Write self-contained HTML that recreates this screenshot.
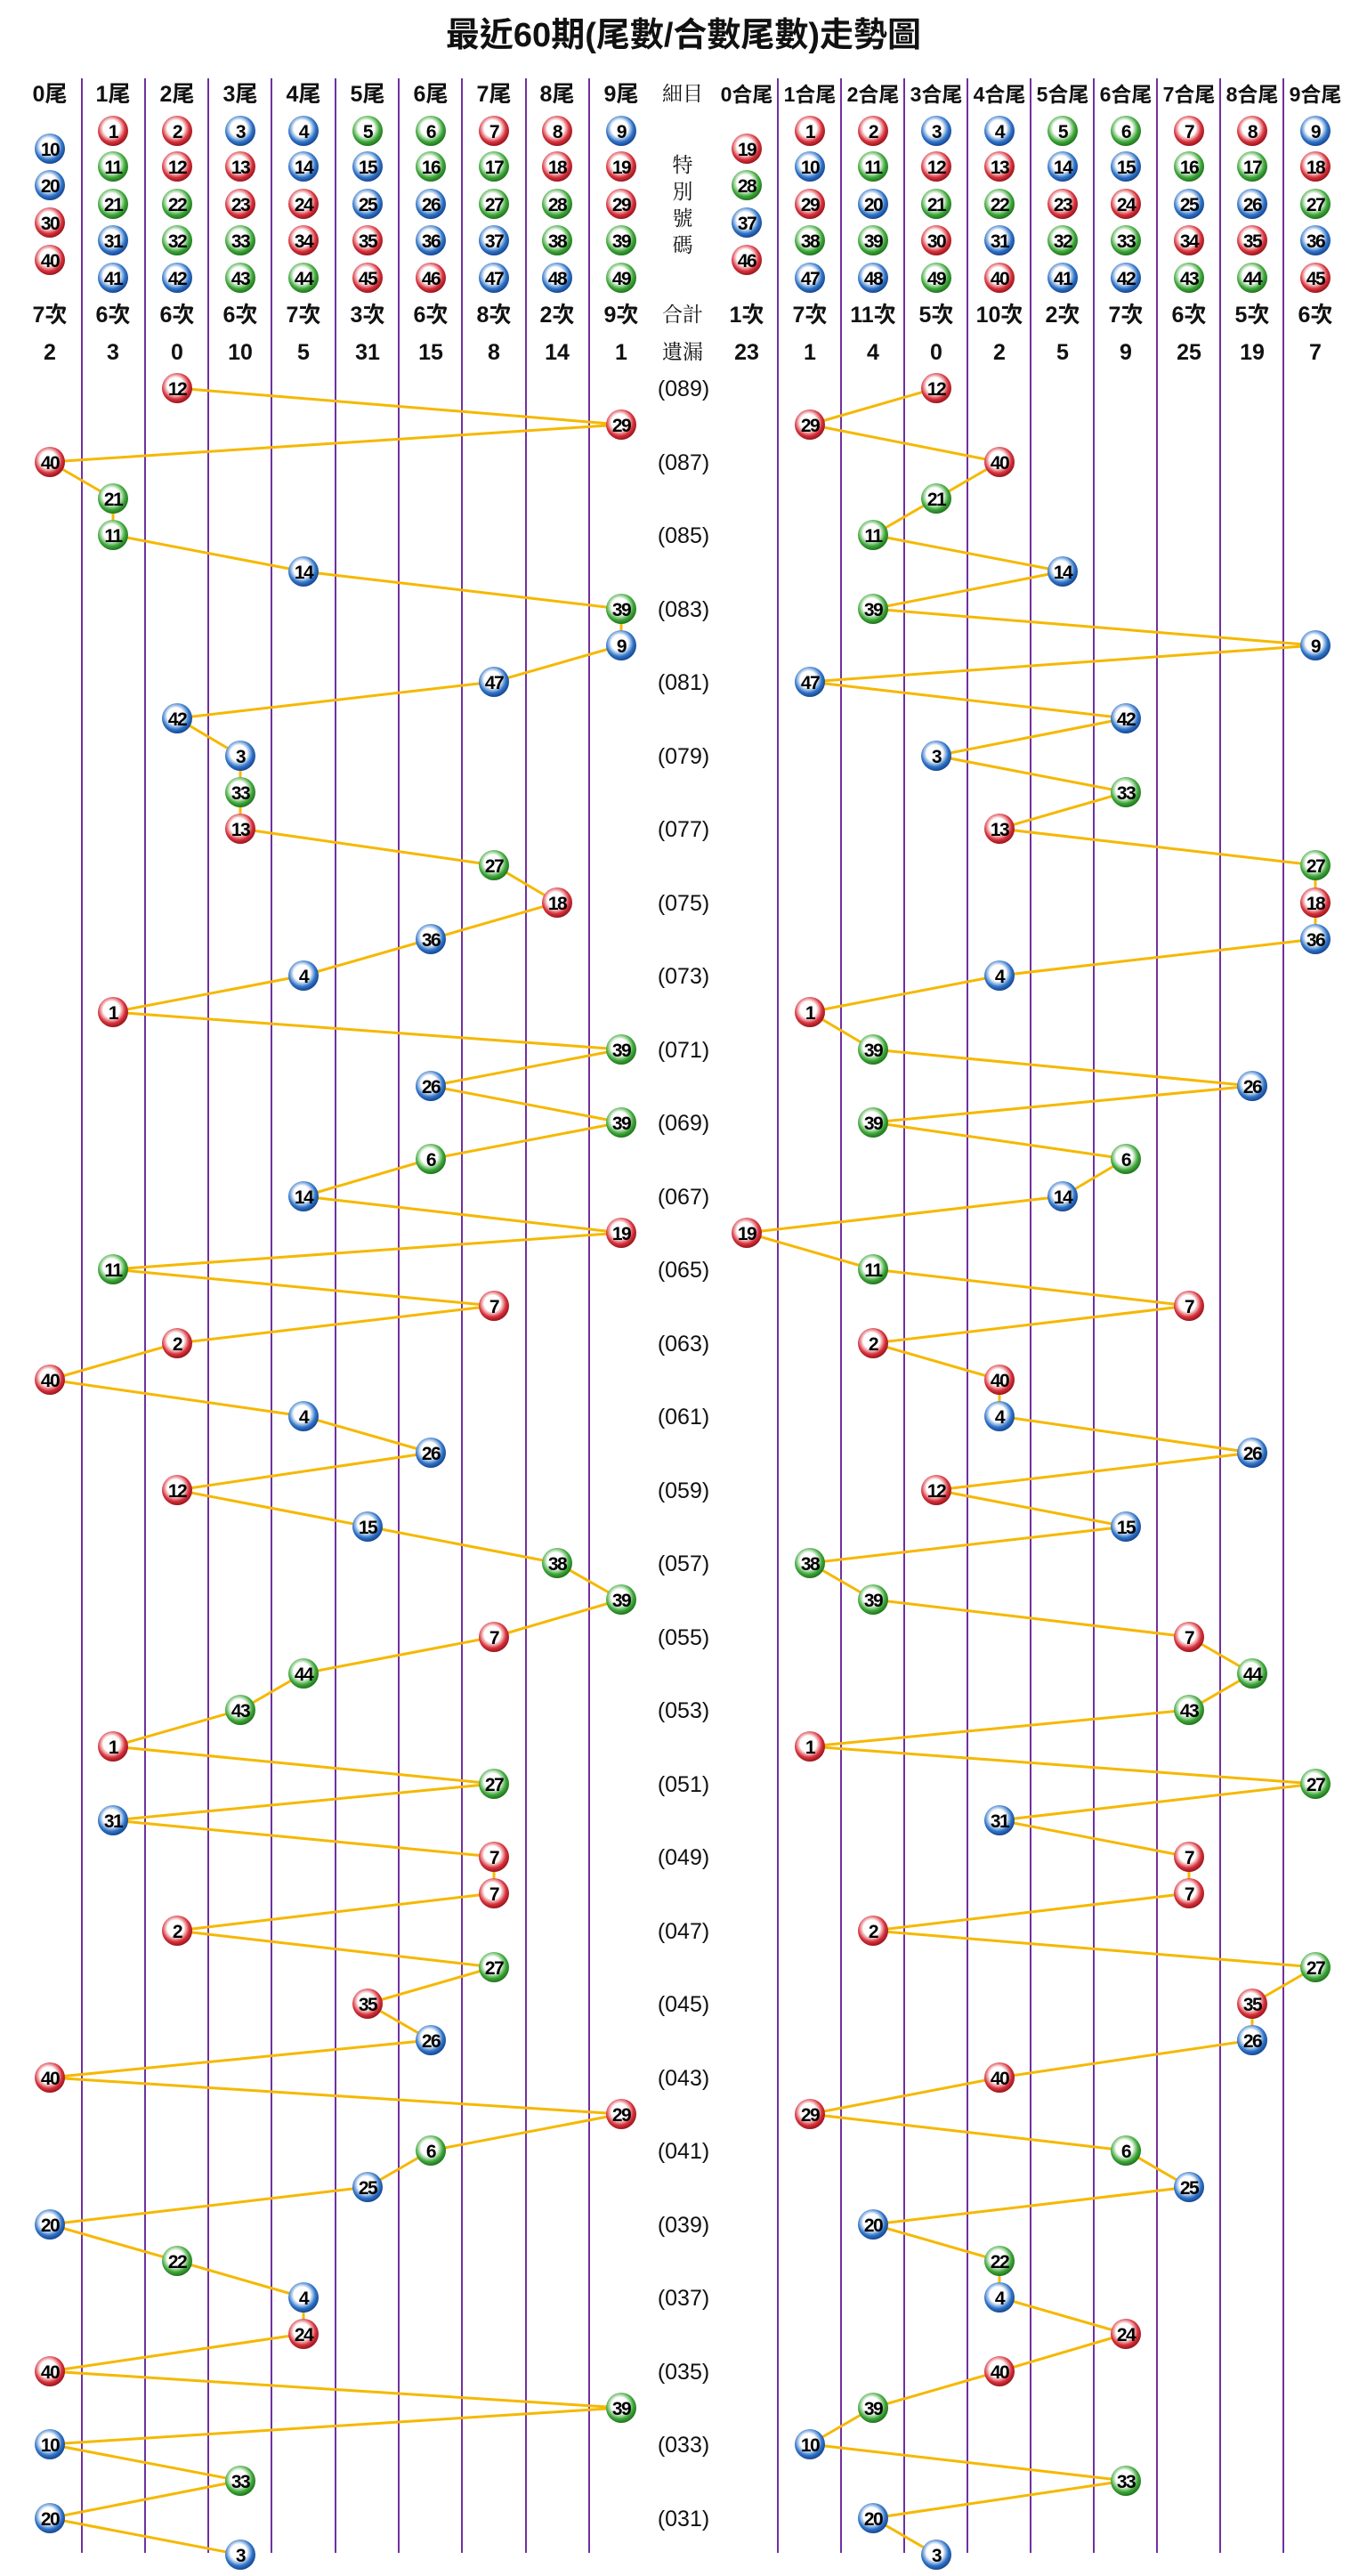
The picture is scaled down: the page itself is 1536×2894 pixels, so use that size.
<!DOCTYPE html>
<html><head><meta charset="utf-8"><style>
html,body{margin:0;padding:0;background:#fff;}
svg{display:block;}
.t{font-family:"Liberation Sans","Noto Sans CJK TC",sans-serif;font-weight:bold;fill:#111;text-anchor:middle;}
.h{font-size:25px;}
.m{font-family:"Liberation Sans","Noto Serif CJK SC","Noto Sans CJK TC",serif;font-weight:normal;font-size:23px;fill:#111;text-anchor:middle;}
.n text,text.n{font-family:"Liberation Sans",sans-serif;font-weight:bold;font-size:21px;letter-spacing:-1.5px;fill:#000;text-anchor:middle;transform-box:fill-box;}
</style></head><body>
<svg width="1536" height="2894" viewBox="0 0 1536 2894" xmlns="http://www.w3.org/2000/svg">
<defs>
<radialGradient id="gr" cx="0.45" cy="0.42" r="0.6"><stop offset="0" stop-color="#fff"/><stop offset="0.45" stop-color="#fff"/><stop offset="0.75" stop-color="#d8323c"/><stop offset="1" stop-color="#8e1018"/></radialGradient>
<radialGradient id="gb" cx="0.45" cy="0.42" r="0.6"><stop offset="0" stop-color="#fff"/><stop offset="0.45" stop-color="#fff"/><stop offset="0.75" stop-color="#2f74c8"/><stop offset="1" stop-color="#123e88"/></radialGradient>
<radialGradient id="gg" cx="0.45" cy="0.42" r="0.6"><stop offset="0" stop-color="#fff"/><stop offset="0.45" stop-color="#fff"/><stop offset="0.75" stop-color="#3ea83a"/><stop offset="1" stop-color="#1b6b18"/></radialGradient>
<g id="r"><circle r="17" fill="url(#gr)"/></g>
<g id="b"><circle r="17" fill="url(#gb)"/></g>
<g id="g"><circle r="17" fill="url(#gg)"/></g>
</defs>

<text class="t" x="768" y="52" font-size="38">最近60期(尾數/合數尾數)走勢圖</text>

<g stroke="#7030A0" stroke-width="2">
<line x1="92" y1="88" x2="92" y2="2868"/><line x1="163" y1="88" x2="163" y2="2868"/><line x1="234" y1="88" x2="234" y2="2868"/><line x1="305" y1="88" x2="305" y2="2868"/><line x1="377" y1="88" x2="377" y2="2868"/><line x1="448" y1="88" x2="448" y2="2868"/><line x1="519" y1="88" x2="519" y2="2868"/><line x1="591" y1="88" x2="591" y2="2868"/><line x1="662" y1="88" x2="662" y2="2868"/>
<line x1="874" y1="88" x2="874" y2="2868"/><line x1="945" y1="88" x2="945" y2="2868"/><line x1="1016" y1="88" x2="1016" y2="2868"/><line x1="1087" y1="88" x2="1087" y2="2868"/><line x1="1158" y1="88" x2="1158" y2="2868"/><line x1="1229" y1="88" x2="1229" y2="2868"/><line x1="1300" y1="88" x2="1300" y2="2868"/><line x1="1371" y1="88" x2="1371" y2="2868"/><line x1="1442" y1="88" x2="1442" y2="2868"/>
</g>

<g class="t h">
<text x="56" y="114">0尾</text><text x="127" y="114">1尾</text><text x="199" y="114">2尾</text><text x="270" y="114">3尾</text><text x="341" y="114">4尾</text><text x="413" y="114">5尾</text><text x="484" y="114">6尾</text><text x="555" y="114">7尾</text><text x="626" y="114">8尾</text><text x="698" y="114">9尾</text>
<text x="839" y="114" font-size="23">0合尾</text><text x="910" y="114" font-size="23">1合尾</text><text x="981" y="114" font-size="23">2合尾</text><text x="1052" y="114" font-size="23">3合尾</text><text x="1123" y="114" font-size="23">4合尾</text><text x="1194" y="114" font-size="23">5合尾</text><text x="1265" y="114" font-size="23">6合尾</text><text x="1336" y="114" font-size="23">7合尾</text><text x="1407" y="114" font-size="23">8合尾</text><text x="1478" y="114" font-size="23">9合尾</text>
<text x="56" y="362">7次</text><text x="127" y="362">6次</text><text x="199" y="362">6次</text><text x="270" y="362">6次</text><text x="341" y="362">7次</text><text x="413" y="362">3次</text><text x="484" y="362">6次</text><text x="555" y="362">8次</text><text x="626" y="362">2次</text><text x="698" y="362">9次</text>
<text x="839" y="362">1次</text><text x="910" y="362">7次</text><text x="981" y="362">11次</text><text x="1052" y="362">5次</text><text x="1123" y="362">10次</text><text x="1194" y="362">2次</text><text x="1265" y="362">7次</text><text x="1336" y="362">6次</text><text x="1407" y="362">5次</text><text x="1478" y="362">6次</text>
<text x="56" y="404">2</text><text x="127" y="404">3</text><text x="199" y="404">0</text><text x="270" y="404">10</text><text x="341" y="404">5</text><text x="413" y="404">31</text><text x="484" y="404">15</text><text x="555" y="404">8</text><text x="626" y="404">14</text><text x="698" y="404">1</text>
<text x="839" y="404">23</text><text x="910" y="404">1</text><text x="981" y="404">4</text><text x="1052" y="404">0</text><text x="1123" y="404">2</text><text x="1194" y="404">5</text><text x="1265" y="404">9</text><text x="1336" y="404">25</text><text x="1407" y="404">19</text><text x="1478" y="404">7</text>
</g>
<g class="m">
<text x="767" y="113">細目</text>
<text x="767" y="193">特</text><text x="767" y="223">別</text><text x="767" y="253">號</text><text x="767" y="283">碼</text>
<text x="767" y="361">合計</text><text x="767" y="403">遺漏</text>
<text x="768" y="445" font-size="25">(089)</text><text x="768" y="528" font-size="25">(087)</text><text x="768" y="610" font-size="25">(085)</text><text x="768" y="693" font-size="25">(083)</text><text x="768" y="775" font-size="25">(081)</text><text x="768" y="858" font-size="25">(079)</text><text x="768" y="940" font-size="25">(077)</text><text x="768" y="1023" font-size="25">(075)</text><text x="768" y="1105" font-size="25">(073)</text><text x="768" y="1188" font-size="25">(071)</text><text x="768" y="1270" font-size="25">(069)</text><text x="768" y="1353" font-size="25">(067)</text><text x="768" y="1435" font-size="25">(065)</text><text x="768" y="1518" font-size="25">(063)</text><text x="768" y="1600" font-size="25">(061)</text><text x="768" y="1683" font-size="25">(059)</text><text x="768" y="1765" font-size="25">(057)</text><text x="768" y="1848" font-size="25">(055)</text><text x="768" y="1930" font-size="25">(053)</text><text x="768" y="2013" font-size="25">(051)</text><text x="768" y="2095" font-size="25">(049)</text><text x="768" y="2178" font-size="25">(047)</text><text x="768" y="2260" font-size="25">(045)</text><text x="768" y="2343" font-size="25">(043)</text><text x="768" y="2425" font-size="25">(041)</text><text x="768" y="2508" font-size="25">(039)</text><text x="768" y="2590" font-size="25">(037)</text><text x="768" y="2673" font-size="25">(035)</text><text x="768" y="2755" font-size="25">(033)</text><text x="768" y="2838" font-size="25">(031)</text>
</g>

<g class="n" transform="translate(0,1)">
<use href="#b" x="56" y="166"/><text x="56" y="174">10</text><use href="#b" x="56" y="207"/><text x="56" y="215">20</text><use href="#r" x="56" y="249"/><text x="56" y="257">30</text><use href="#r" x="56" y="291"/><text x="56" y="299">40</text>
<use href="#r" x="127" y="146"/><text x="127" y="154">1</text><use href="#g" x="127" y="186"/><text x="127" y="194">11</text><use href="#g" x="127" y="228"/><text x="127" y="236">21</text><use href="#b" x="127" y="269"/><text x="127" y="277">31</text><use href="#b" x="127" y="311"/><text x="127" y="319">41</text>
<use href="#r" x="199" y="146"/><text x="199" y="154">2</text><use href="#r" x="199" y="186"/><text x="199" y="194">12</text><use href="#g" x="199" y="228"/><text x="199" y="236">22</text><use href="#g" x="199" y="269"/><text x="199" y="277">32</text><use href="#b" x="199" y="311"/><text x="199" y="319">42</text>
<use href="#b" x="270" y="146"/><text x="270" y="154">3</text><use href="#r" x="270" y="186"/><text x="270" y="194">13</text><use href="#r" x="270" y="228"/><text x="270" y="236">23</text><use href="#g" x="270" y="269"/><text x="270" y="277">33</text><use href="#g" x="270" y="311"/><text x="270" y="319">43</text>
<use href="#b" x="341" y="146"/><text x="341" y="154">4</text><use href="#b" x="341" y="186"/><text x="341" y="194">14</text><use href="#r" x="341" y="228"/><text x="341" y="236">24</text><use href="#r" x="341" y="269"/><text x="341" y="277">34</text><use href="#g" x="341" y="311"/><text x="341" y="319">44</text>
<use href="#g" x="413" y="146"/><text x="413" y="154">5</text><use href="#b" x="413" y="186"/><text x="413" y="194">15</text><use href="#b" x="413" y="228"/><text x="413" y="236">25</text><use href="#r" x="413" y="269"/><text x="413" y="277">35</text><use href="#r" x="413" y="311"/><text x="413" y="319">45</text>
<use href="#g" x="484" y="146"/><text x="484" y="154">6</text><use href="#g" x="484" y="186"/><text x="484" y="194">16</text><use href="#b" x="484" y="228"/><text x="484" y="236">26</text><use href="#b" x="484" y="269"/><text x="484" y="277">36</text><use href="#r" x="484" y="311"/><text x="484" y="319">46</text>
<use href="#r" x="555" y="146"/><text x="555" y="154">7</text><use href="#g" x="555" y="186"/><text x="555" y="194">17</text><use href="#g" x="555" y="228"/><text x="555" y="236">27</text><use href="#b" x="555" y="269"/><text x="555" y="277">37</text><use href="#b" x="555" y="311"/><text x="555" y="319">47</text>
<use href="#r" x="626" y="146"/><text x="626" y="154">8</text><use href="#r" x="626" y="186"/><text x="626" y="194">18</text><use href="#g" x="626" y="228"/><text x="626" y="236">28</text><use href="#g" x="626" y="269"/><text x="626" y="277">38</text><use href="#b" x="626" y="311"/><text x="626" y="319">48</text>
<use href="#b" x="698" y="146"/><text x="698" y="154">9</text><use href="#r" x="698" y="186"/><text x="698" y="194">19</text><use href="#r" x="698" y="228"/><text x="698" y="236">29</text><use href="#g" x="698" y="269"/><text x="698" y="277">39</text><use href="#g" x="698" y="311"/><text x="698" y="319">49</text>

<use href="#r" x="839" y="166"/><text x="839" y="174">19</text><use href="#g" x="839" y="207"/><text x="839" y="215">28</text><use href="#b" x="839" y="249"/><text x="839" y="257">37</text><use href="#r" x="839" y="291"/><text x="839" y="299">46</text>
<use href="#r" x="910" y="146"/><text x="910" y="154">1</text><use href="#b" x="910" y="186"/><text x="910" y="194">10</text><use href="#r" x="910" y="228"/><text x="910" y="236">29</text><use href="#g" x="910" y="269"/><text x="910" y="277">38</text><use href="#b" x="910" y="311"/><text x="910" y="319">47</text>
<use href="#r" x="981" y="146"/><text x="981" y="154">2</text><use href="#g" x="981" y="186"/><text x="981" y="194">11</text><use href="#b" x="981" y="228"/><text x="981" y="236">20</text><use href="#g" x="981" y="269"/><text x="981" y="277">39</text><use href="#b" x="981" y="311"/><text x="981" y="319">48</text>
<use href="#b" x="1052" y="146"/><text x="1052" y="154">3</text><use href="#r" x="1052" y="186"/><text x="1052" y="194">12</text><use href="#g" x="1052" y="228"/><text x="1052" y="236">21</text><use href="#r" x="1052" y="269"/><text x="1052" y="277">30</text><use href="#g" x="1052" y="311"/><text x="1052" y="319">49</text>
<use href="#b" x="1123" y="146"/><text x="1123" y="154">4</text><use href="#r" x="1123" y="186"/><text x="1123" y="194">13</text><use href="#g" x="1123" y="228"/><text x="1123" y="236">22</text><use href="#b" x="1123" y="269"/><text x="1123" y="277">31</text><use href="#r" x="1123" y="311"/><text x="1123" y="319">40</text>
<use href="#g" x="1194" y="146"/><text x="1194" y="154">5</text><use href="#b" x="1194" y="186"/><text x="1194" y="194">14</text><use href="#r" x="1194" y="228"/><text x="1194" y="236">23</text><use href="#g" x="1194" y="269"/><text x="1194" y="277">32</text><use href="#b" x="1194" y="311"/><text x="1194" y="319">41</text>
<use href="#g" x="1265" y="146"/><text x="1265" y="154">6</text><use href="#b" x="1265" y="186"/><text x="1265" y="194">15</text><use href="#r" x="1265" y="228"/><text x="1265" y="236">24</text><use href="#g" x="1265" y="269"/><text x="1265" y="277">33</text><use href="#b" x="1265" y="311"/><text x="1265" y="319">42</text>
<use href="#r" x="1336" y="146"/><text x="1336" y="154">7</text><use href="#g" x="1336" y="186"/><text x="1336" y="194">16</text><use href="#b" x="1336" y="228"/><text x="1336" y="236">25</text><use href="#r" x="1336" y="269"/><text x="1336" y="277">34</text><use href="#g" x="1336" y="311"/><text x="1336" y="319">43</text>
<use href="#r" x="1407" y="146"/><text x="1407" y="154">8</text><use href="#g" x="1407" y="186"/><text x="1407" y="194">17</text><use href="#b" x="1407" y="228"/><text x="1407" y="236">26</text><use href="#r" x="1407" y="269"/><text x="1407" y="277">35</text><use href="#g" x="1407" y="311"/><text x="1407" y="319">44</text>
<use href="#b" x="1478" y="146"/><text x="1478" y="154">9</text><use href="#r" x="1478" y="186"/><text x="1478" y="194">18</text><use href="#g" x="1478" y="228"/><text x="1478" y="236">27</text><use href="#b" x="1478" y="269"/><text x="1478" y="277">36</text><use href="#r" x="1478" y="311"/><text x="1478" y="319">45</text>
</g>

<g fill="none" stroke="#F5B800" stroke-width="3" stroke-linejoin="round">
<polyline points="199,436 698,477 56,519 127,560 127,601 341,642 698,684 698,725 555,766 199,807 270,849 270,890 270,931 555,972 626,1014 484,1055 341,1096 127,1137 698,1179 484,1220 698,1261 484,1302 341,1344 698,1385 127,1426 555,1467 199,1509 56,1550 341,1591 484,1632 199,1674 413,1715 626,1756 698,1797 555,1839 341,1880 270,1921 127,1962 555,2004 127,2045 555,2086 555,2127 199,2169 555,2210 413,2251 484,2292 56,2334 698,2375 484,2416 413,2457 56,2499 199,2540 341,2581 341,2622 56,2664 698,2705 56,2746 270,2787 56,2829 270,2870"/>
<polyline points="1052,436 910,477 1123,519 1052,560 981,601 1194,642 981,684 1478,725 910,766 1265,807 1052,849 1265,890 1123,931 1478,972 1478,1014 1478,1055 1123,1096 910,1137 981,1179 1407,1220 981,1261 1265,1302 1194,1344 839,1385 981,1426 1336,1467 981,1509 1123,1550 1123,1591 1407,1632 1052,1674 1265,1715 910,1756 981,1797 1336,1839 1407,1880 1336,1921 910,1962 1478,2004 1123,2045 1336,2086 1336,2127 981,2169 1478,2210 1407,2251 1407,2292 1123,2334 910,2375 1265,2416 1336,2457 981,2499 1123,2540 1123,2581 1265,2622 1123,2664 981,2705 910,2746 1265,2787 981,2829 1052,2870"/>
</g>

<g class="n">
<use href="#r" x="199" y="436"/><text x="199" y="444">12</text>
<use href="#r" x="698" y="477"/><text x="698" y="485">29</text>
<use href="#r" x="56" y="519"/><text x="56" y="527">40</text>
<use href="#g" x="127" y="560"/><text x="127" y="568">21</text>
<use href="#g" x="127" y="601"/><text x="127" y="609">11</text>
<use href="#b" x="341" y="642"/><text x="341" y="650">14</text>
<use href="#g" x="698" y="684"/><text x="698" y="692">39</text>
<use href="#b" x="698" y="725"/><text x="698" y="733">9</text>
<use href="#b" x="555" y="766"/><text x="555" y="774">47</text>
<use href="#b" x="199" y="807"/><text x="199" y="815">42</text>
<use href="#b" x="270" y="849"/><text x="270" y="857">3</text>
<use href="#g" x="270" y="890"/><text x="270" y="898">33</text>
<use href="#r" x="270" y="931"/><text x="270" y="939">13</text>
<use href="#g" x="555" y="972"/><text x="555" y="980">27</text>
<use href="#r" x="626" y="1014"/><text x="626" y="1022">18</text>
<use href="#b" x="484" y="1055"/><text x="484" y="1063">36</text>
<use href="#b" x="341" y="1096"/><text x="341" y="1104">4</text>
<use href="#r" x="127" y="1137"/><text x="127" y="1145">1</text>
<use href="#g" x="698" y="1179"/><text x="698" y="1187">39</text>
<use href="#b" x="484" y="1220"/><text x="484" y="1228">26</text>
<use href="#g" x="698" y="1261"/><text x="698" y="1269">39</text>
<use href="#g" x="484" y="1302"/><text x="484" y="1310">6</text>
<use href="#b" x="341" y="1344"/><text x="341" y="1352">14</text>
<use href="#r" x="698" y="1385"/><text x="698" y="1393">19</text>
<use href="#g" x="127" y="1426"/><text x="127" y="1434">11</text>
<use href="#r" x="555" y="1467"/><text x="555" y="1475">7</text>
<use href="#r" x="199" y="1509"/><text x="199" y="1517">2</text>
<use href="#r" x="56" y="1550"/><text x="56" y="1558">40</text>
<use href="#b" x="341" y="1591"/><text x="341" y="1599">4</text>
<use href="#b" x="484" y="1632"/><text x="484" y="1640">26</text>
<use href="#r" x="199" y="1674"/><text x="199" y="1682">12</text>
<use href="#b" x="413" y="1715"/><text x="413" y="1723">15</text>
<use href="#g" x="626" y="1756"/><text x="626" y="1764">38</text>
<use href="#g" x="698" y="1797"/><text x="698" y="1805">39</text>
<use href="#r" x="555" y="1839"/><text x="555" y="1847">7</text>
<use href="#g" x="341" y="1880"/><text x="341" y="1888">44</text>
<use href="#g" x="270" y="1921"/><text x="270" y="1929">43</text>
<use href="#r" x="127" y="1962"/><text x="127" y="1970">1</text>
<use href="#g" x="555" y="2004"/><text x="555" y="2012">27</text>
<use href="#b" x="127" y="2045"/><text x="127" y="2053">31</text>
<use href="#r" x="555" y="2086"/><text x="555" y="2094">7</text>
<use href="#r" x="555" y="2127"/><text x="555" y="2135">7</text>
<use href="#r" x="199" y="2169"/><text x="199" y="2177">2</text>
<use href="#g" x="555" y="2210"/><text x="555" y="2218">27</text>
<use href="#r" x="413" y="2251"/><text x="413" y="2259">35</text>
<use href="#b" x="484" y="2292"/><text x="484" y="2300">26</text>
<use href="#r" x="56" y="2334"/><text x="56" y="2342">40</text>
<use href="#r" x="698" y="2375"/><text x="698" y="2383">29</text>
<use href="#g" x="484" y="2416"/><text x="484" y="2424">6</text>
<use href="#b" x="413" y="2457"/><text x="413" y="2465">25</text>
<use href="#b" x="56" y="2499"/><text x="56" y="2507">20</text>
<use href="#g" x="199" y="2540"/><text x="199" y="2548">22</text>
<use href="#b" x="341" y="2581"/><text x="341" y="2589">4</text>
<use href="#r" x="341" y="2622"/><text x="341" y="2630">24</text>
<use href="#r" x="56" y="2664"/><text x="56" y="2672">40</text>
<use href="#g" x="698" y="2705"/><text x="698" y="2713">39</text>
<use href="#b" x="56" y="2746"/><text x="56" y="2754">10</text>
<use href="#g" x="270" y="2787"/><text x="270" y="2795">33</text>
<use href="#b" x="56" y="2829"/><text x="56" y="2837">20</text>
<use href="#b" x="270" y="2870"/><text x="270" y="2878">3</text>
</g>

<g class="n">
<use href="#r" x="1052" y="436"/><text x="1052" y="444">12</text>
<use href="#r" x="910" y="477"/><text x="910" y="485">29</text>
<use href="#r" x="1123" y="519"/><text x="1123" y="527">40</text>
<use href="#g" x="1052" y="560"/><text x="1052" y="568">21</text>
<use href="#g" x="981" y="601"/><text x="981" y="609">11</text>
<use href="#b" x="1194" y="642"/><text x="1194" y="650">14</text>
<use href="#g" x="981" y="684"/><text x="981" y="692">39</text>
<use href="#b" x="1478" y="725"/><text x="1478" y="733">9</text>
<use href="#b" x="910" y="766"/><text x="910" y="774">47</text>
<use href="#b" x="1265" y="807"/><text x="1265" y="815">42</text>
<use href="#b" x="1052" y="849"/><text x="1052" y="857">3</text>
<use href="#g" x="1265" y="890"/><text x="1265" y="898">33</text>
<use href="#r" x="1123" y="931"/><text x="1123" y="939">13</text>
<use href="#g" x="1478" y="972"/><text x="1478" y="980">27</text>
<use href="#r" x="1478" y="1014"/><text x="1478" y="1022">18</text>
<use href="#b" x="1478" y="1055"/><text x="1478" y="1063">36</text>
<use href="#b" x="1123" y="1096"/><text x="1123" y="1104">4</text>
<use href="#r" x="910" y="1137"/><text x="910" y="1145">1</text>
<use href="#g" x="981" y="1179"/><text x="981" y="1187">39</text>
<use href="#b" x="1407" y="1220"/><text x="1407" y="1228">26</text>
<use href="#g" x="981" y="1261"/><text x="981" y="1269">39</text>
<use href="#g" x="1265" y="1302"/><text x="1265" y="1310">6</text>
<use href="#b" x="1194" y="1344"/><text x="1194" y="1352">14</text>
<use href="#r" x="839" y="1385"/><text x="839" y="1393">19</text>
<use href="#g" x="981" y="1426"/><text x="981" y="1434">11</text>
<use href="#r" x="1336" y="1467"/><text x="1336" y="1475">7</text>
<use href="#r" x="981" y="1509"/><text x="981" y="1517">2</text>
<use href="#r" x="1123" y="1550"/><text x="1123" y="1558">40</text>
<use href="#b" x="1123" y="1591"/><text x="1123" y="1599">4</text>
<use href="#b" x="1407" y="1632"/><text x="1407" y="1640">26</text>
<use href="#r" x="1052" y="1674"/><text x="1052" y="1682">12</text>
<use href="#b" x="1265" y="1715"/><text x="1265" y="1723">15</text>
<use href="#g" x="910" y="1756"/><text x="910" y="1764">38</text>
<use href="#g" x="981" y="1797"/><text x="981" y="1805">39</text>
<use href="#r" x="1336" y="1839"/><text x="1336" y="1847">7</text>
<use href="#g" x="1407" y="1880"/><text x="1407" y="1888">44</text>
<use href="#g" x="1336" y="1921"/><text x="1336" y="1929">43</text>
<use href="#r" x="910" y="1962"/><text x="910" y="1970">1</text>
<use href="#g" x="1478" y="2004"/><text x="1478" y="2012">27</text>
<use href="#b" x="1123" y="2045"/><text x="1123" y="2053">31</text>
<use href="#r" x="1336" y="2086"/><text x="1336" y="2094">7</text>
<use href="#r" x="1336" y="2127"/><text x="1336" y="2135">7</text>
<use href="#r" x="981" y="2169"/><text x="981" y="2177">2</text>
<use href="#g" x="1478" y="2210"/><text x="1478" y="2218">27</text>
<use href="#r" x="1407" y="2251"/><text x="1407" y="2259">35</text>
<use href="#b" x="1407" y="2292"/><text x="1407" y="2300">26</text>
<use href="#r" x="1123" y="2334"/><text x="1123" y="2342">40</text>
<use href="#r" x="910" y="2375"/><text x="910" y="2383">29</text>
<use href="#g" x="1265" y="2416"/><text x="1265" y="2424">6</text>
<use href="#b" x="1336" y="2457"/><text x="1336" y="2465">25</text>
<use href="#b" x="981" y="2499"/><text x="981" y="2507">20</text>
<use href="#g" x="1123" y="2540"/><text x="1123" y="2548">22</text>
<use href="#b" x="1123" y="2581"/><text x="1123" y="2589">4</text>
<use href="#r" x="1265" y="2622"/><text x="1265" y="2630">24</text>
<use href="#r" x="1123" y="2664"/><text x="1123" y="2672">40</text>
<use href="#g" x="981" y="2705"/><text x="981" y="2713">39</text>
<use href="#b" x="910" y="2746"/><text x="910" y="2754">10</text>
<use href="#g" x="1265" y="2787"/><text x="1265" y="2795">33</text>
<use href="#b" x="981" y="2829"/><text x="981" y="2837">20</text>
<use href="#b" x="1052" y="2870"/><text x="1052" y="2878">3</text>
</g>
</svg>
</body></html>
